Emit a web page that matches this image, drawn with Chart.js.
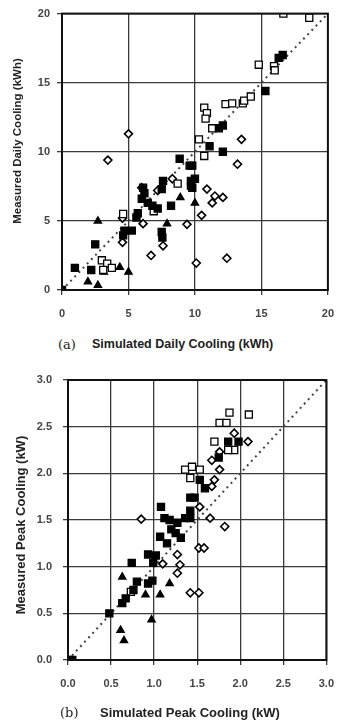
<!DOCTYPE html>
<html>
<head>
<meta charset="utf-8">
<script src="https://cdn.jsdelivr.net/npm/chart.js@4.4.1/dist/chart.umd.min.js"></script>
<style>
  body { margin: 0; background: #fff; width: 346px; height: 722px; overflow: hidden; position: relative;
         font-family: "Liberation Sans", Arial, sans-serif; }
  .panel { position: absolute; left: 0; }
  .ytitle { position: absolute; font-weight: bold; color: #222; white-space: nowrap;
            transform: translate(-50%, -50%) rotate(-90deg); }
  .tag { position: absolute; font-family: "DejaVu Serif", "Liberation Serif", serif; font-size: 13px; color: #222;
         transform: translateY(-50%); }
  .xtitle { position: absolute; font-weight: bold; color: #222; white-space: nowrap;
            transform: translateY(-50%); }
</style>
</head>
<body>

<canvas id="dailyChart" class="panel" width="346" height="330" style="top:0"></canvas>
<canvas id="peakChart" class="panel" width="346" height="362" style="top:360px"></canvas>

<div class="ytitle" style="left:17px;top:141px;font-size:11.5px">Measured Daily Cooling (kWh)</div>
<div class="tag" style="left:58px;top:344px">(a)</div>
<div class="xtitle" style="left:92px;top:344px;font-size:12.5px">Simulated Daily Cooling (kWh)</div>

<div class="ytitle" style="left:20px;top:525px;font-size:13px">Measured Peak Cooling (kW)</div>
<div class="tag" style="left:60px;top:712px">(b)</div>
<div class="xtitle" style="left:100px;top:712px;font-size:13px">Simulated Peak Cooling (kW)</div>

<script>
// (a) daily cooling, kWh — [simulated, measured]
const dailyFilledSq = [
  [0, 0], [0.97, 1.6], [2.2, 1.45], [2.5, 3.3], [4.7, 4.3], [4.6, 3.95], [5.25, 4.3], [5.6, 5.25],
  [5.7, 5.55], [6.0, 6.6], [6.2, 7.0], [6.1, 7.4], [6.45, 6.3], [6.8, 6.1], [7.2, 5.9], [7.5, 7.3],
  [7.6, 7.9], [8.2, 6.1], [7.5, 4.2], [7.55, 3.8], [8.85, 9.5], [9.6, 9.0], [9.8, 9.0], [9.7, 7.9],
  [9.8, 7.4], [10.0, 8.05], [9.7, 7.55], [11.1, 10.4], [12.1, 10.0], [12.1, 11.9], [11.8, 11.7],
  [15.3, 14.4], [16.3, 16.8], [16.6, 17.0]
];
const dailyOpenSq = [
  [3.0, 2.15], [3.4, 1.9], [3.75, 1.6], [3.1, 1.45], [4.6, 5.5], [6.9, 5.7], [8.7, 7.7], [10.3, 10.9],
  [10.7, 9.7], [10.7, 13.2], [10.9, 12.8], [10.8, 12.4], [11.3, 11.7], [12.3, 13.45], [12.8, 13.5],
  [13.6, 13.5], [13.7, 13.7], [14.2, 14.0], [14.8, 16.3], [15.95, 16.2], [16.0, 15.9], [16.65, 20.0],
  [18.6, 19.7]
];
const dailyDiamond = [
  [3.45, 9.4], [5.0, 11.3], [4.55, 5.2], [4.55, 3.45], [6.0, 7.4], [7.2, 7.2], [8.3, 8.05], [6.1, 4.8],
  [7.6, 3.2], [6.7, 2.5], [9.4, 4.75], [13.5, 10.9], [13.2, 9.1], [10.9, 7.3], [11.5, 6.8], [12.1, 6.7],
  [11.3, 6.3], [10.5, 5.4], [10.1, 1.95], [12.4, 2.3]
];
const dailyTriangle = [
  [2.7, 5.0], [7.9, 4.8], [8.9, 6.7], [10.0, 6.3], [3.15, 1.3], [4.35, 1.65], [5.0, 1.3], [1.95, 0.6],
  [2.7, 0.35]
];
const dailyTicks = [0, 5, 10, 15, 20];

// (b) peak cooling, kW — [simulated, measured]
const peakFilledSq = [
  [0.0, 0.0], [0.05, 0.0], [0.48, 0.5], [0.63, 0.61], [0.67, 0.66], [0.76, 0.75], [0.8, 0.84],
  [0.93, 0.82], [0.98, 0.85], [0.74, 1.04], [0.99, 1.04], [0.93, 1.13], [1.02, 1.12], [1.07, 1.32],
  [1.15, 1.25], [1.2, 1.4], [1.25, 1.36], [1.31, 1.31], [1.08, 1.64], [1.12, 1.52], [1.18, 1.5],
  [1.27, 1.47], [1.36, 1.52], [1.42, 1.74], [1.47, 1.74], [1.42, 1.6], [1.42, 1.52], [1.53, 1.93],
  [1.59, 1.84], [1.75, 2.17], [1.86, 2.34], [1.98, 2.34]
];
const peakOpenSq = [
  [0.73, 0.73], [1.36, 2.04], [1.42, 1.95], [1.44, 2.07], [1.53, 2.04], [1.7, 2.34], [1.76, 2.54],
  [1.84, 2.54], [1.875, 2.65], [2.1, 2.63], [1.93, 2.25], [1.86, 2.25]
];
const peakDiamond = [
  [0.85, 1.51], [1.93, 2.43], [2.09, 2.34], [1.76, 2.23], [1.67, 2.14], [1.76, 2.04], [1.7, 1.93],
  [1.67, 1.86], [1.53, 1.64], [1.65, 1.52], [1.82, 1.43], [1.52, 1.2], [1.58, 1.2], [1.42, 0.72],
  [1.52, 0.72], [1.27, 1.13], [1.3, 1.02], [1.27, 0.93], [1.1, 1.03]
];
const peakTriangle = [
  [0.63, 0.89], [1.18, 0.82], [0.9, 0.7], [1.07, 0.7], [0.97, 0.43], [0.61, 0.32], [0.65, 0.21]
];
const peakTicks = [0, 0.5, 1.0, 1.5, 2.0, 2.5, 3.0];

const toXY = (arr) => arr.map(([x, y]) => ({ x, y }));

// outer frame around the plot area
const frame = {
  id: "frame",
  afterDatasetsDraw(chart) {
    const { ctx, chartArea: a } = chart;
    ctx.save();
    ctx.strokeStyle = "#111";
    ctx.lineWidth = 2;
    ctx.strokeRect(a.left, a.top, a.right - a.left, a.bottom - a.top);
    ctx.restore();
  },
};

function series(points, style) {
  const base = { data: toXY(points), showLine: false, pointBorderColor: "#000", pointBorderWidth: 1.3 };
  if (style === "filled") return { ...base, pointStyle: "rect", pointRadius: 5, pointBackgroundColor: "#000" };
  if (style === "open") return { ...base, pointStyle: "rect", pointRadius: 5, pointBackgroundColor: "#fff" };
  if (style === "diamond") return { ...base, pointStyle: "rectRot", pointRadius: 4, pointBackgroundColor: "#fff", pointBorderWidth: 1.6 };
  return { ...base, pointStyle: "triangle", pointRadius: 4.2, pointBackgroundColor: "#000" };
}

function makeChart(id, sets, ticks, opts) {
  const max = ticks[ticks.length - 1];
  const step = ticks[1] - ticks[0];
  const tickFont = { family: "Liberation Sans", size: 11, weight: "bold" };
  const fmt = (v) => (opts.decimals ? Number(v).toFixed(1) : String(v));
  const axis = (fit, pad) => ({
    type: "linear",
    min: 0,
    max,
    ticks: { stepSize: step, color: "#444", font: tickFont, padding: pad, callback: fmt },
    grid: { color: "#3a3a3a", lineWidth: 1.3, tickLength: 5, tickColor: "#3a3a3a" },
    border: { color: "#111", width: 2 },
    afterFit: fit,
  });

  return new Chart(document.getElementById(id), {
    type: "scatter",
    data: {
      datasets: [
        {
          data: [{ x: 0, y: 0 }, { x: max, y: max }],
          showLine: true,
          borderColor: "#444",
          borderWidth: 2,
          borderDash: [2, 4],
          pointRadius: 0,
          order: 10,
        },
        ...sets,
      ],
    },
    options: {
      responsive: false,
      animation: false,
      layout: { padding: { top: opts.top, right: opts.right, bottom: opts.bottom, left: 0 } },
      plugins: { legend: { display: false }, tooltip: { enabled: false } },
      scales: {
        x: axis((s) => { s.height = 30; }, 12),
        y: axis((s) => { s.width = opts.left; }, opts.ypad),
      },
    },
    plugins: [frame],
  });
}

makeChart(
  "dailyChart",
  [series(dailyFilledSq, "filled"), series(dailyOpenSq, "open"), series(dailyDiamond, "diamond"), series(dailyTriangle, "tri")],
  dailyTicks,
  { top: 12, right: 17, bottom: 10, left: 62, ypad: 7, decimals: false }
);

makeChart(
  "peakChart",
  [series(peakFilledSq, "filled"), series(peakOpenSq, "open"), series(peakDiamond, "diamond"), series(peakTriangle, "tri")],
  peakTicks,
  { top: 20, right: 14, bottom: 32, left: 68, ypad: 11, decimals: true }
);
</script>
</body>
</html>
